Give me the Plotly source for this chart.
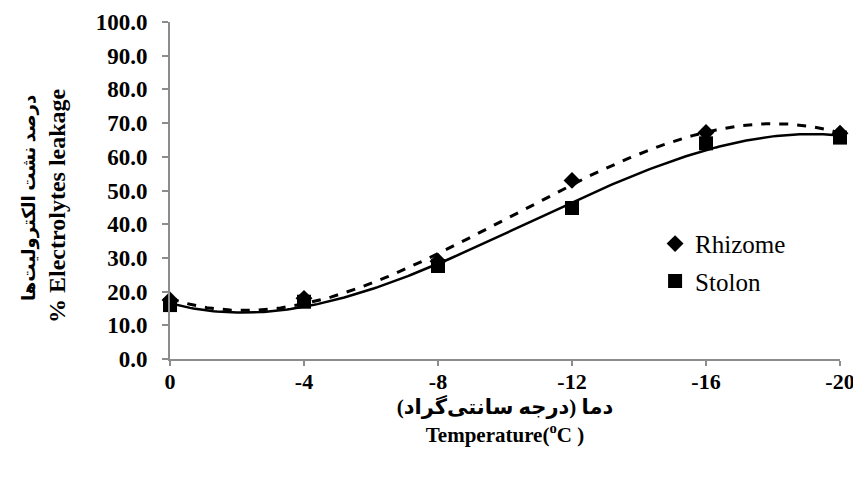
import numpy as np
import plotly.graph_objects as go

temperature = [0, -4, -8, -12, -16, -20]
tick_labels = ["0", "-4", "-8", "-12", "-16", "-20"]
rhizome = [17.5, 18.0, 29.0, 53.0, 67.2, 67.0]
stolon = [16.0, 17.0, 27.6, 44.8, 64.0, 65.7]
y_ticks = [0, 10, 20, 30, 40, 50, 60, 70, 80, 90, 100]

# Excel-style polynomial (order 3) trendlines fitted to the data
xs = np.linspace(0, -20, 201)
fit_r = np.polyval(np.polyfit(temperature, rhizome, 3), xs)
fit_s = np.polyval(np.polyfit(temperature, stolon, 3), xs)

serif = "Liberation Serif, Times New Roman, DejaVu Serif, serif"
persian = "Liberation Serif, DejaVu Sans"

fig = go.Figure()
fig.add_trace(go.Scatter(x=xs, y=fit_r, mode="lines", showlegend=False,
                         line=dict(color="black", width=3, dash="dash"), hoverinfo="skip"))
fig.add_trace(go.Scatter(x=xs, y=fit_s, mode="lines", showlegend=False,
                         line=dict(color="black", width=2.5), hoverinfo="skip"))
fig.add_trace(go.Scatter(x=temperature, y=rhizome, mode="markers", name="Rhizome",
                         legendgroup="r",
                         marker=dict(symbol="diamond", size=13, color="black"), cliponaxis=False))
fig.add_trace(go.Scatter(x=temperature, y=stolon, mode="markers", name="Stolon",
                         legendgroup="s",
                         marker=dict(symbol="square", size=14, color="black"), cliponaxis=False))

fig.update_layout(
    width=861, height=484,
    margin=dict(l=162, r=29, t=14, b=133),
    paper_bgcolor="white", plot_bgcolor="white",
    font=dict(family=serif, color="black"),
    legend=dict(x=0.724, y=0.41, xanchor="left", yanchor="top",
                font=dict(family="Liberation Serif, serif", size=25, color="black"),
                bgcolor="rgba(0,0,0,0)", traceorder="grouped", tracegroupgap=2,
                itemwidth=30),
    xaxis=dict(
        range=[0, -20], tickmode="array", tickvals=temperature, ticktext=tick_labels,
        showgrid=False, zeroline=False, showline=True, linecolor="#8c8c8c", linewidth=2,
        ticks="outside", ticklen=5, tickcolor="#8c8c8c", tickwidth=2,
        tickfont=dict(family=serif, size=22, color="black", weight="bold"),
        ticklabelstandoff=-3, automargin=False,
        title=dict(text="<b>دما (درجه سانتی‌گراد)</b><br><b>Temperature(<sup>o</sup>C )</b>",
                   font=dict(family=persian, size=21, color="black"), standoff=4),
    ),
    yaxis=dict(
        range=[0, 100], tickmode="array", tickvals=y_ticks,
        ticktext=[f"{v:.1f}" for v in y_ticks],
        showgrid=False, zeroline=False, showline=True, linecolor="#8c8c8c", linewidth=2,
        ticks="outside", ticklen=6, tickcolor="#8c8c8c", tickwidth=2,
        tickfont=dict(family=serif, size=23, color="black", weight="bold"),
        ticklabelstandoff=10, automargin=False,
    ),
    annotations=[
        dict(text="<b>درصد نشت الکترولیت‌ها</b>", xref="paper", yref="paper",
             x=-0.209, y=0.478, xanchor="center", yanchor="middle", textangle=-90,
             showarrow=False, font=dict(family=persian, size=18, color="black")),
        dict(text="<b>% Electrolytes leakage</b>", xref="paper", yref="paper",
             x=-0.1687, y=0.457, xanchor="center", yanchor="middle", textangle=-90,
             showarrow=False, font=dict(family=serif, size=24, color="black")),
    ],
)

fig.write_html("out.html")
